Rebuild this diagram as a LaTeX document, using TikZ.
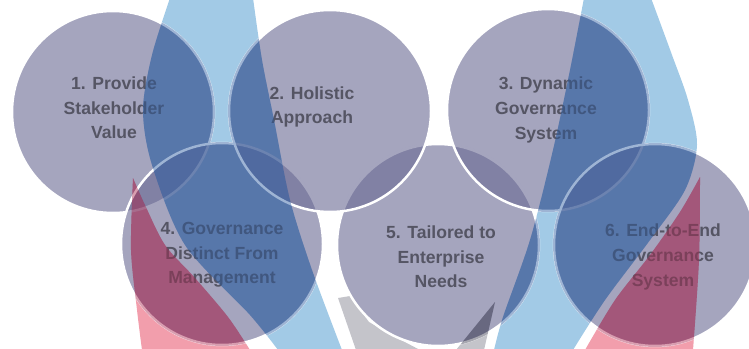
\documentclass[tikz,border=0pt]{standalone}
\usepackage{fontspec}
\setmainfont{Liberation Sans}

\definecolor{discfill}{RGB}{105,105,147}
\definecolor{skyband}{RGB}{162,202,230}
\definecolor{roseband}{RGB}{242,158,172}
\definecolor{stoneband}{RGB}{196,196,202}
\definecolor{deepsky}{RGB}{40,90,160}
\definecolor{deeprose}{RGB}{170,40,80}
\definecolor{deepstone}{RGB}{60,60,80}
\definecolor{inktext}{RGB}{85,85,100}

\tikzset{
  disc/.style={circle, minimum size=4.04cm, inner sep=0pt, fill=discfill,
    fill opacity=0.6, draw=white, line width=1.4pt},
  pointtext/.style={align=center, text=inktext, text opacity=1,
    font=\fontsize{10}{14}\selectfont\bfseries},
}

% outlines of the swooshes behind the discs
\newcommand\skyleft{plot[smooth] coordinates {(170,-2) (152,55) (143,110) (152,165) (185,245) (250,315) (278,350)}
  -- plot[smooth] coordinates {(342,350) (312,270) (290,200) (274,120) (262,60) (253,-2)} -- cycle}
\newcommand\skyright{plot[smooth] coordinates {(584,-2) (570,70) (553,150) (530,240) (503,317) (494,350)}
  -- plot[smooth] coordinates {(573,350) (605,300) (650,240) (685,190) (697,145) (688,100) (672,55) (651,-2)} -- cycle}
\newcommand\roseleft{plot[smooth] coordinates {(133,178) (131,250) (137,310) (142,350)}
  -- plot[smooth] coordinates {(250,350) (228,317) (195,278) (165,245) (145,205) (133,178)} -- cycle}
\newcommand\roseright{plot[smooth] coordinates {(700,177) (699,260) (693,350)}
  -- plot[smooth] coordinates {(585,350) (615,300) (650,255) (680,212) (700,177)} -- cycle}
\newcommand\stonetip{(495,302) -- (456,350) -- (484,350) -- cycle}

\begin{document}
\begin{tikzpicture}[x=0.02cm,y=-0.02cm]
  \clip (0,0) rectangle (749,348);
  % swooshes
  \fill[skyband] \skyleft;
  \fill[skyband] \skyright;
  \fill[roseband] \roseleft;
  \fill[roseband] \roseright;
  \fill[stoneband] (338,298) -- (350,296) -- (369,322) -- (401,340) -- (420,350) -- (356,350) -- cycle;
  \fill[stoneband] \stonetip;
  % the six discs
  \node[disc] (d1) at (113,112) {};
  \node[disc] (d4) at (222,244) {};
  \node[disc] (d5) at (438,245) {};
  \node[disc] (d2) at (330,111) {};
  \node[disc] (d3) at (548,110) {};
  \node[disc] (d6) at (655,245) {};
  % principle names
  \node[pointtext] (t1) at (114,108) {1. Provide\\Stakeholder\\Value};
  \node[pointtext] (t2) at (312,107) {2. Holistic\\Approach};
  \node[pointtext] (t3) at (546,110) {3. Dynamic\\Governance\\System};
  \node[pointtext] (t4) at (222,255) {4. Governance\\Distinct From\\Management};
  \node[pointtext] (t5) at (441,257) {5. Tailored to\\Enterprise\\Needs};
  \node[pointtext] (t6) at (663,257) {6. End-to-End\\Governance\\System};
  % swooshes seen through the discs (and their rims)
  \begin{scope}
    \clip (d1.center) circle [radius=2.04cm] (d2.center) circle [radius=2.04cm]
      (d3.center) circle [radius=2.04cm] (d4.center) circle [radius=2.04cm]
      (d5.center) circle [radius=2.04cm] (d6.center) circle [radius=2.04cm];
    \fill[deepsky, opacity=0.45] \skyleft;
    \fill[deepsky, opacity=0.45] \skyright;
    \fill[deeprose, opacity=0.45] \roseleft;
    \fill[deeprose, opacity=0.45] \roseright;
    \fill[deepstone, opacity=0.45] \stonetip;
  \end{scope}
\end{tikzpicture}
\end{document}
